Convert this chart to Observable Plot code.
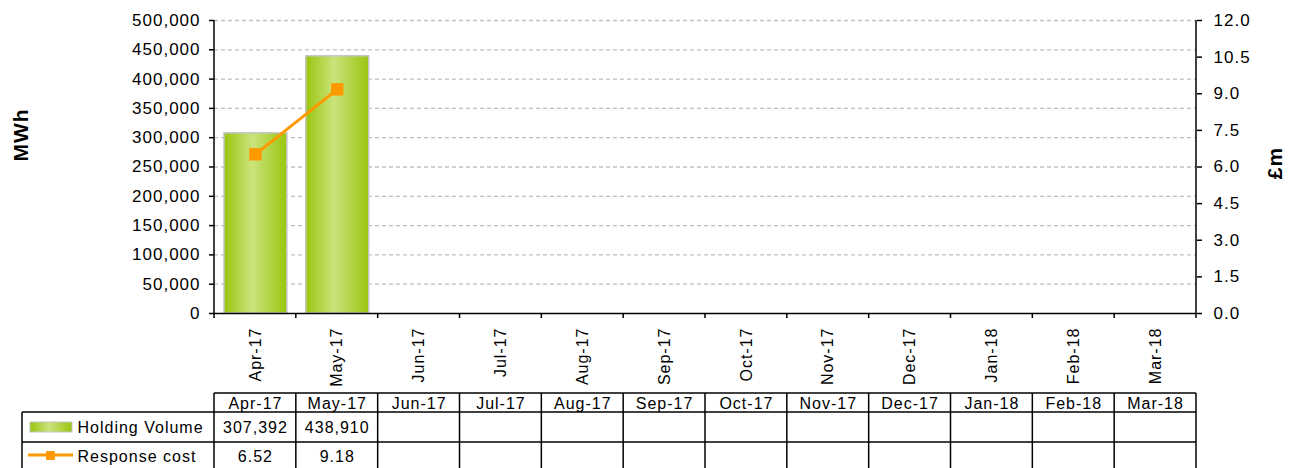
<!DOCTYPE html>
<html><head><meta charset="utf-8">
<script src="https://cdn.jsdelivr.net/npm/d3@7"></script>
<script src="https://cdn.jsdelivr.net/npm/@observablehq/plot@0.6"></script>
<style>html,body{margin:0;padding:0;background:#fff}svg{display:block}</style>
</head><body><div id="chart"></div>
<script>
const months = ["Apr-17","May-17","Jun-17","Jul-17","Aug-17","Sep-17","Oct-17","Nov-17","Dec-17","Jan-18","Feb-18","Mar-18"];
const holdingVolume = [307392, 438910, null, null, null, null, null, null, null, null, null, null];
const responseCost = [6.52, 9.18, null, null, null, null, null, null, null, null, null, null];
const mwhTicks = [0, 50000, 100000, 150000, 200000, 250000, 300000, 350000, 400000, 450000, 500000];
const costTicks = [0, 1.5, 3.0, 4.5, 6.0, 7.5, 9.0, 10.5, 12.0];
const seriesNames = ["Holding Volume", "Response cost"];
const axisTitles = ["MWh", "£m"];
const mwhMax = 500000, costMax = 12;

const k = mwhMax / costMax;
const volRows = months.map((m, i) => ({month: m, value: holdingVolume[i]})).filter(d => d.value != null);
const costRows = months.map((m, i) => ({month: m, value: responseCost[i]})).filter(d => d.value != null);
const FONT = "'Liberation Sans', Arial, sans-serif";
const GREEN = "url(#hvGrad)", ORANGE = "#ff9900";

const plot = Plot.plot({
  width: 1293, height: 468,
  marginLeft: 214, marginRight: 97, marginTop: 20, marginBottom: 155,
  style: {fontFamily: FONT, fontSize: "16px", color: "#000", background: "#fff", overflow: "visible", letterSpacing: "1px"},
  x: {domain: months, padding: 0, round: false, label: null},
  y: {domain: [0, mwhMax], label: null},
  marks: [
    Plot.ruleY(mwhTicks.slice(1), {stroke: "#c0c0c0", strokeWidth: 1.3, strokeDasharray: "4,3"}),
    Plot.barY(volRows, {x: "month", y: "value", fill: GREEN, stroke: "#c4c4c4", strokeWidth: 1.5, insetLeft: 10, insetRight: 9}),
    Plot.line(costRows, {x: "month", y: d => d.value * k, stroke: ORANGE, strokeWidth: 3}),
    Plot.dot(costRows, {x: "month", y: d => d.value * k, symbol: "square", r: 7, fill: ORANGE, stroke: "none"}),
    Plot.ruleY([0], {stroke: "#000", strokeWidth: 1.5}),
    Plot.axisY(mwhTicks, {anchor: "left", tickFormat: d3.format(","), tickSize: 5, tickPadding: 9, label: null, fontSize: 17, strokeWidth: 1.5}),
    Plot.axisY(costTicks.map(c => c * k), {anchor: "right", tickFormat: v => (v / k).toFixed(1), tickSize: 5, tickPadding: 12, label: null, fontSize: 17, strokeWidth: 1.5}),
    Plot.axisX(months, {anchor: "bottom", tickRotate: -90, tickSize: 0, tickPadding: 14, label: null, fontSize: 16}),
    Plot.text([axisTitles[0]], {frameAnchor: "left", dx: -193, dy: -32, rotate: -90, textAnchor: "middle", lineAnchor: "middle", fontWeight: "bold", fontSize: 21}),
    Plot.text([axisTitles[1]], {frameAnchor: "right", dx: 79, dy: -4, rotate: -90, textAnchor: "middle", lineAnchor: "middle", fontWeight: "bold", fontSize: 21}),
    // data table
    Plot.text(months, {x: d => d, frameAnchor: "bottom", lineAnchor: "middle", dy: 90}),
    Plot.text(volRows, {x: "month", text: d => d3.format(",")(d.value), frameAnchor: "bottom", lineAnchor: "middle", dy: 114}),
    Plot.text(costRows, {x: "month", text: d => d.value.toFixed(2), frameAnchor: "bottom", lineAnchor: "middle", dy: 143}),
    Plot.text([seriesNames[0]], {frameAnchor: "bottom-left", lineAnchor: "middle", dx: -137, dy: 114, textAnchor: "start"}),
    Plot.text([seriesNames[1]], {frameAnchor: "bottom-left", lineAnchor: "middle", dx: -137, dy: 143, textAnchor: "start"}),
    Plot.dot([seriesNames[1]], {frameAnchor: "bottom-left", dx: -164, dy: 142, symbol: "square", r: 5, fill: ORANGE})
  ]
});

const svg = d3.select(plot);
const defs = svg.insert("defs", ":first-child");
const grad = defs.append("linearGradient").attr("id", "hvGrad").attr("x1", 0).attr("x2", 1).attr("y1", 0).attr("y2", 0);
grad.append("stop").attr("offset", 0).attr("stop-color", "#99c60e");
grad.append("stop").attr("offset", 0.45).attr("stop-color", "#cbe37c");
grad.append("stop").attr("offset", 1).attr("stop-color", "#99c60e");

const xs = plot.scale("x");
const r0 = xs.range[0], r1 = xs.range[1];
const step = (r1 - r0) / months.length;
const ys = plot.scale("y");
const yTop = ys.range[1], yBot = ys.range[0];
const bounds = d3.range(months.length + 1).map(i => r0 + i * step);

const g = svg.append("g").attr("stroke", "#000").attr("stroke-width", 1.5).attr("fill", "none");
// axis lines
g.append("line").attr("x1", r0).attr("x2", r0).attr("y1", yTop).attr("y2", yBot);
g.append("line").attr("x1", r1).attr("x2", r1).attr("y1", yTop).attr("y2", yBot);
// category boundary ticks
bounds.forEach(b => g.append("line").attr("x1", b).attr("x2", b).attr("y1", yBot).attr("y2", yBot + 5));
// table grid
const tTop = yBot + 80, tRow1 = yBot + 99, tRow2 = yBot + 129, tEnd = 490, tLeft = 22;
bounds.forEach(b => g.append("line").attr("x1", b).attr("x2", b).attr("y1", tTop).attr("y2", tEnd));
g.append("line").attr("x1", tLeft).attr("x2", tLeft).attr("y1", tRow1).attr("y2", tEnd);
g.append("line").attr("x1", r0).attr("x2", r1).attr("y1", tTop).attr("y2", tTop);
g.append("line").attr("x1", tLeft).attr("x2", r1).attr("y1", tRow1).attr("y2", tRow1);
g.append("line").attr("x1", tLeft).attr("x2", r1).attr("y1", tRow2).attr("y2", tRow2);
// legend swatches
svg.append("rect").attr("x", 30).attr("y", yBot + 109).attr("width", 42).attr("height", 10)
  .attr("fill", GREEN).attr("stroke", "#c4c4c4").attr("stroke-width", 1);
svg.append("line").attr("x1", 28).attr("x2", 73).attr("y1", yBot + 142).attr("y2", yBot + 142)
  .attr("stroke", ORANGE).attr("stroke-width", 3);
svg.selectAll("g[aria-label='dot']").raise();

document.getElementById("chart").appendChild(plot);
</script>
</body></html>
